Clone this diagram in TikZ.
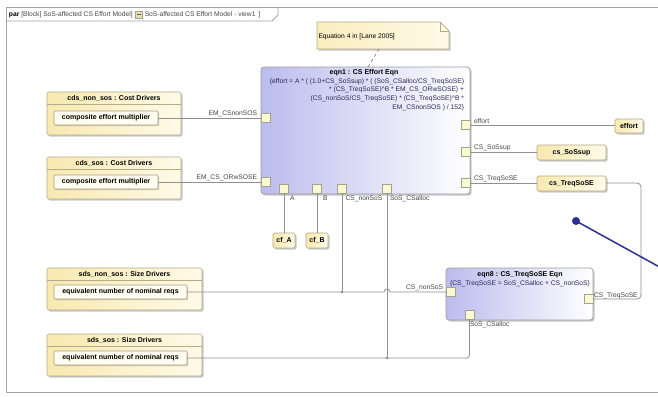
\documentclass[tikz,border=0pt]{standalone}
\usepackage{fontspec}
\setmainfont{Liberation Sans}
\usetikzlibrary{shadows,calc}

\definecolor{wirecol}{HTML}{8F8F8F}
\definecolor{framecol}{HTML}{A4A4A4}
\definecolor{blkline}{HTML}{B5AB86}
\definecolor{blkA}{HTML}{F8E9AF}
\definecolor{blkB}{HTML}{FFFAE8}
\definecolor{eqnA}{HTML}{BCBCEE}
\definecolor{eqnline}{HTML}{9C9CA6}
\definecolor{portfill}{HTML}{F9F9D4}
\definecolor{portline}{HTML}{A3A38A}
\definecolor{annot}{HTML}{2E3192}
\definecolor{txtgray}{HTML}{474747}
\definecolor{formcol}{HTML}{2A2A55}

\newcommand\dgreg{\fontsize{6.7}{8.6}\selectfont}
\newcommand\dgbold{\fontsize{7}{8.6}\selectfont\bfseries}

\tikzset{
  every node/.style={inner sep=0pt, outer sep=0pt},
  wire/.style={draw=wirecol, line width=0.8pt},
  softshadow/.style={drop shadow={shadow xshift=1.6pt, shadow yshift=-1.6pt, fill=black, opacity=0.22}},
  blockbox/.style={draw=blkline, line width=0.7pt, rounded corners=1.5pt, left color=blkA, right color=blkB, softshadow},
  innerbox/.style={draw=blkline!70!gray, line width=0.6pt, rounded corners=1pt, fill=blkB!60!white, font=\dgbold,
    drop shadow={shadow xshift=1pt, shadow yshift=-1pt, fill=black, opacity=0.18}},
  valbox/.style={blockbox, font=\dgbold},
  eqnbox/.style={draw=eqnline, line width=0.7pt, rounded corners=3pt, left color=eqnA, right color=white, softshadow},
  port/.style={draw=portline, line width=0.6pt, fill=portfill, minimum size=9pt},
  plabel/.style={font=\dgreg, text=txtgray},
  titletext/.style={font=\dgbold},
  junction/.style={circle, fill=wirecol, minimum size=2.6pt},
}

\begin{document}
\begin{tikzpicture}[x=1pt, y=-1pt]
\useasboundingbox (0,0) rectangle (658,396);
\clip (0,0) rectangle (658,396);
\fill[white] (0,0) rectangle (658,396);

% diagram frame and its header tab
\draw[framecol, line width=0.8pt] (664,392) -- (6,392) -- (6,7) -- (664,7);
\draw[framecol, line width=0.8pt] (6,21) -- (272,21) -- (278,15) -- (278,7);
\node[anchor=west, font=\dgreg] (hdrA) at (9,14.5) {\textbf{par} \textcolor{txtgray}{[Block] SoS-affected CS Effort Model]}};
\node[draw=portline, fill=blkA!70!olive!60, minimum size=7pt, anchor=west] (hdrIcon) at ($(hdrA.east)+(2.5,0)$) {};
\draw[portline!60!black, line width=0.4pt] ($(hdrIcon.west)+(1.5,0)$) -- ($(hdrIcon.east)+(-1.5,0)$);
\node[anchor=west, font=\dgreg, text=txtgray] (hdrB) at ($(hdrIcon.east)+(2.5,0)$) {SoS-affected CS Effort Model - view1 \,]};

% comment note
\node[minimum width=132pt, minimum height=27pt] (note) at (383,35.5) {};
\path[draw=blkline, line width=0.7pt, left color=blkA!80!white, right color=blkB, softshadow]
  (note.south west) -- (note.north west) -- ($(note.north east)+(-9,0)$) -- ($(note.north east)+(0,9)$) -- (note.south east) -- cycle;
\draw[blkline, line width=0.6pt] ($(note.north east)+(-9,0)$) -- ($(note.north east)+(-9,9)$) -- ($(note.north east)+(0,9)$);
\node[font=\dgreg, anchor=west] (noteText) at ($(note.west)+(1.5,1.5)$) {Equation 4 in [Lane 2005]};

% constraint block eqn1
\node[eqnbox, minimum width=209pt, minimum height=127pt] (eqn1) at (365.5,130.5) {};
\node[titletext] (eqn1t) at (364,73) {eqn1 : CS Effort Eqn};
\node[font=\dgreg, text=formcol, align=right, anchor=north east] (eqn1f) at (464,78.5)
  {\{effort = A * ( (1.0+CS\_SoSsup) * ( (SoS\_CSalloc/CS\_TreqSoSE)\\
   * (CS\_TreqSoSE)\textasciicircum B * EM\_CS\_ORwSOSE) +\\
   (CS\_nonSoS/CS\_TreqSoSE) * (CS\_TreqSoSE)\textasciicircum B *\\
   EM\_CSnonSOS ) / 152\}};
\draw[wire, dashed] ($(note.south)+(-4,0)$) -- ($(eqn1.north)+(2.5,0)$);

\node[port] (pL1) at (265.5,118) {};
\node[port] (pL2) at (265.5,182) {};
\node[port] (pEff) at (465.5,125) {};
\node[port] (pSup) at (465.5,152) {};
\node[port] (pTrq) at (465.5,183) {};
\node[port] (pA) at (284,188.5) {};
\node[port] (pB) at (317,188.5) {};
\node[port] (pCSn) at (342,188.5) {};
\node[port] (pSoS) at (387,188.5) {};

\node[plabel, anchor=south east] (lEM1) at (257,116.5) {EM\_CSnonSOS};
\node[plabel, anchor=south east] (lEM2) at (257,180.5) {EM\_CS\_ORwSOSE};
\node[plabel, anchor=south west] (lEff) at (474,123.5) {effort};
\node[plabel, anchor=south west] (lSup) at (474,150.5) {CS\_SoSsup};
\node[plabel, anchor=south west] (lTrq) at (474,181.5) {CS\_TreqSoSE};
\node[plabel, anchor=north west] (lA) at (290,196) {A};
\node[plabel, anchor=north west] (lB) at (323,196) {B};
\node[plabel, anchor=north west] (lCSn) at (345.5,196) {CS\_nonSoS};
\node[plabel, anchor=north west] (lSoS) at (390,196) {SoS\_CSalloc};

% constraint block eqn8
\node[eqnbox, minimum width=147pt, minimum height=52pt] (eqn8) at (519.5,294) {};
\node[titletext] (eqn8t) at (520,275) {eqn8 : CS\_TreqSoSE Eqn};
\node[font=\dgreg, text=formcol] (eqn8f) at (520,283.5) {\{CS\_TreqSoSE = SoS\_CSalloc + CS\_nonSoS\}};
\node[port] (p8L) at (450.5,292) {};
\node[port] (p8B) at (469.5,315) {};
\node[port] (p8R) at (588.5,299) {};
\node[plabel, anchor=south east] (l8L) at (443,290.5) {CS\_nonSoS};
\node[plabel, anchor=north west] (l8B) at (470,321.5) {SoS\_CSalloc};
\node[plabel, anchor=south west] (l8R) at (594,298.5) {CS\_TreqSoSE};

% driver blocks on the left
\node[blockbox, minimum width=134pt, minimum height=43pt] (cdsA) at (114,113.5) {};
\node[titletext] (cdsAt) at (114,98.5) {cds\_non\_sos : Cost Drivers};
\draw[blkline, line width=0.6pt] ($(cdsA.north west)+(0,12)$) -- ($(cdsA.north east)+(0,12)$);
\node[innerbox, minimum width=104pt, minimum height=14pt] (cdsAi) at (106,118) {composite effort multiplier};

\node[blockbox, minimum width=134pt, minimum height=42pt] (cdsB) at (114,178) {};
\node[titletext] (cdsBt) at (114,163.5) {cds\_sos : Cost Drivers};
\draw[blkline, line width=0.6pt] ($(cdsB.north west)+(0,12)$) -- ($(cdsB.north east)+(0,12)$);
\node[innerbox, minimum width=104pt, minimum height=14pt] (cdsBi) at (106,182) {composite effort multiplier};

\node[blockbox, minimum width=155pt, minimum height=42pt] (sdsA) at (124.5,289) {};
\node[titletext] (sdsAt) at (124.5,274) {sds\_non\_sos : Size Drivers};
\draw[blkline, line width=0.6pt] ($(sdsA.north west)+(0,12)$) -- ($(sdsA.north east)+(0,12)$);
\node[innerbox, minimum width=133pt, minimum height=14pt] (sdsAi) at (120.5,292) {equivalent number of nominal reqs};

\node[blockbox, minimum width=155pt, minimum height=42pt] (sdsB) at (124.5,355) {};
\node[titletext] (sdsBt) at (124.5,340) {sds\_sos : Size Drivers};
\draw[blkline, line width=0.6pt] ($(sdsB.north west)+(0,12)$) -- ($(sdsB.north east)+(0,12)$);
\node[innerbox, minimum width=133pt, minimum height=14pt] (sdsBi) at (120.5,358) {equivalent number of nominal reqs};

% value properties
\node[valbox, minimum width=28pt, minimum height=14pt] (effBox) at (629,126) {effort};
\node[valbox, minimum width=69pt, minimum height=15pt] (supBox) at (571.5,152.5) {cs\_SoSsup};
\node[valbox, minimum width=69pt, minimum height=15pt] (trqBox) at (571.5,183.5) {cs\_TreqSoSE};
\node[valbox, minimum width=22pt, minimum height=15pt] (cfA) at (284,240.5) {cf\_A};
\node[valbox, minimum width=22pt, minimum height=15pt] (cfB) at (317,240.5) {cf\_B};

% binding connectors
\draw[wire] (cdsAi.east) -- (pL1.west);
\draw[wire] (cdsBi.east) -- (pL2.west);
\draw[wire] (pEff.east) -- (pEff.east -| effBox.west);
\draw[wire] (pSup.east) -- (pSup.east -| supBox.west);
\draw[wire] (pTrq.east) -- (pTrq.east -| trqBox.west);
\coordinate (bendR) at (641,240);
\draw[wire, rounded corners=4pt] (pTrq.east -| trqBox.east) -| (bendR) |- (p8R.east);
\draw[wire] (pA.south) -- (pA.south |- cfA.north);
\draw[wire] (pB.south) -- (pB.south |- cfB.north);
\draw[wire] (pCSn.south) -- (pCSn.south |- sdsAi.east);
\draw[wire] (pSoS.south) -- (pSoS.south |- sdsBi.east);
\draw[wire] (sdsAi.east) -- ($(pSoS.south |- sdsAi.east)+(-3,0)$) arc[start angle=180, end angle=0, radius=3pt] -- (p8L.west);
\draw[wire, rounded corners=3pt] (sdsBi.east) -| (p8B.south);
\node[junction] (jn1) at (pCSn.south |- sdsAi.east) {};
\node[junction] (jn2) at (pSoS.south |- sdsBi.east) {};

% pointer
\node[circle, fill=annot, minimum size=8pt] (pin) at (576,221) {};
\coordinate (pinEnd) at (664,269.5);
\draw[annot, line width=1.5pt] (pin.center) -- (pinEnd);
\end{tikzpicture}
\end{document}
